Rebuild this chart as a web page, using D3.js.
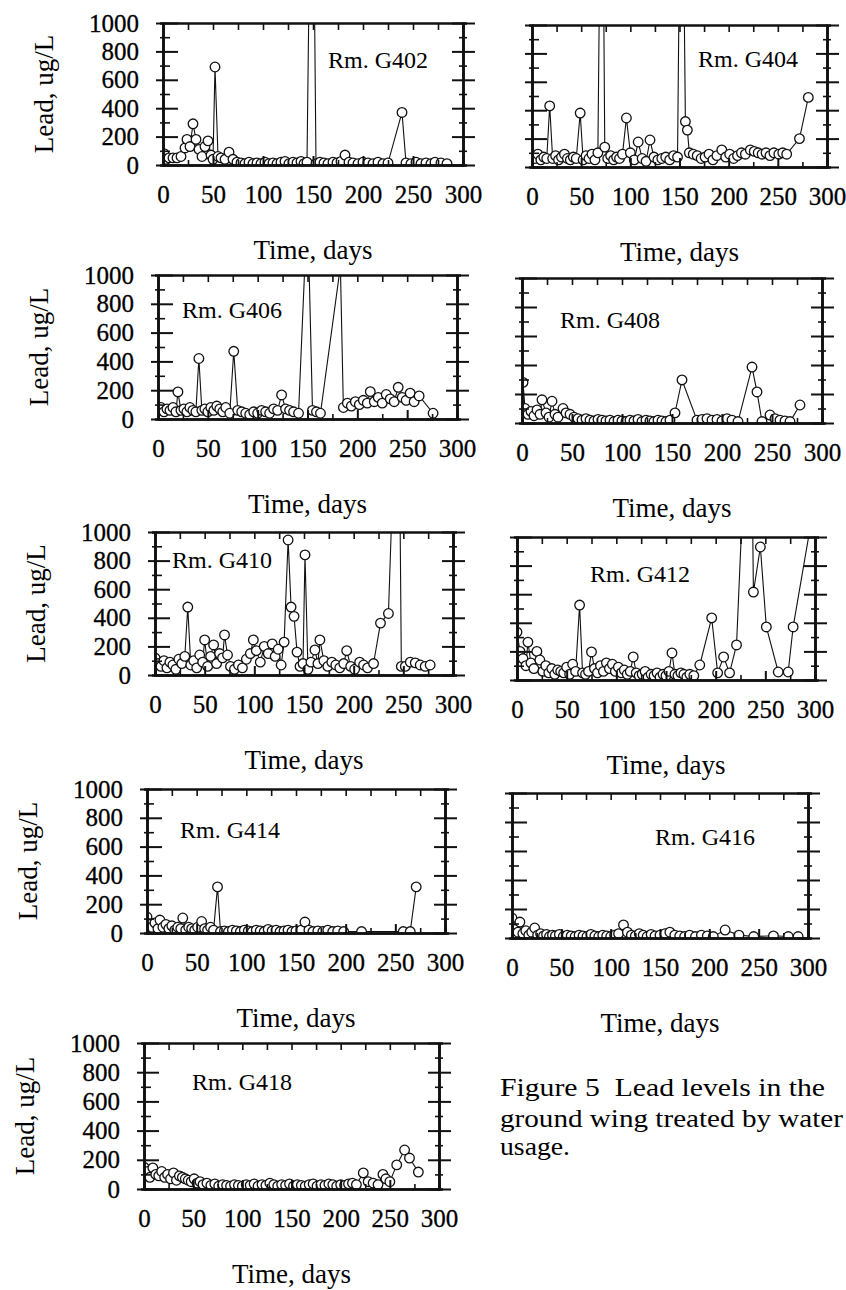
<!DOCTYPE html>
<html>
<head>
<meta charset="utf-8">
<script src="https://cdn.jsdelivr.net/npm/d3@7"></script>
<style>
  body { margin: 0; background: #fff; }
  svg { display: block; }
  text { font-family: "Liberation Serif", "Times New Roman", serif; fill: #000; white-space: pre; }
  .axis path { stroke: #111; stroke-width: 2.6; }
  .axis line { stroke: #111; stroke-width: 2; }
  .axis.minor line { stroke-width: 1.6; }
  .axis text { stroke: #000; stroke-width: 0.3; }
</style>
</head>
<body>
<svg id="fig" width="846" height="1290"></svg>
<script>
// [day, lead ug/L]; values over 1000 run off the top of the frame
const g402 = [[1,80],[3,40],[6,50],[10,50],[14,50],[18,60],[22,120],[24,180],[27,130],[30,290],[33,180],[36,110],[39,60],[42,130],[45,170],[48,70],[50,40],[52,690],[55,60],[58,50],[62,40],[66,90],[70,40],[74,20],[78,15],[82,10],[86,20],[90,10],[94,15],[98,10],[102,20],[106,10],[110,15],[114,10],[118,20],[122,25],[126,10],[130,20],[134,15],[138,25],[141,10],[144,20],[149,3000],[153,10],[157,20],[161,15],[165,10],[170,20],[174,15],[178,25],[182,70],[186,20],[190,15],[195,10],[200,20],[205,15],[210,10],[215,20],[220,10],[225,15],[239,370],[243,15],[248,10],[253,20],[258,10],[263,15],[268,10],[272,20],[278,15],[284,10]];

const g404 = [[0,80],[3,60],[6,90],[9,50],[12,70],[15,60],[18,430],[21,60],[24,80],[27,50],[30,70],[33,90],[36,60],[39,50],[42,70],[45,60],[49,380],[52,50],[55,80],[58,60],[61,90],[64,50],[67,100],[71,3000],[74,140],[77,60],[80,80],[83,50],[86,70],[89,60],[92,90],[96,345],[100,100],[104,50],[108,176],[112,60],[116,40],[120,190],[124,70],[128,50],[132,60],[136,70],[140,50],[144,80],[148,70],[152,3000],[156,320],[158,260],[160,100],[164,90],[168,80],[172,60],[176,70],[180,90],[184,50],[188,80],[193,120],[197,70],[201,90],[205,60],[209,80],[213,100],[217,90],[222,120],[226,110],[230,100],[234,90],[238,100],[242,80],[246,100],[251,90],[255,100],[259,90],[272,200],[281,490]];

const g406 = [[0,60],[3,80],[6,50],[9,70],[12,60],[15,80],[18,50],[20,188],[23,60],[26,70],[29,50],[32,80],[35,60],[38,50],[41,420],[44,60],[47,70],[50,50],[53,80],[56,60],[59,90],[62,70],[65,50],[68,80],[72,40],[76,470],[80,60],[84,50],[88,40],[92,30],[96,50],[100,40],[104,60],[108,50],[112,40],[116,70],[120,60],[124,167],[128,70],[132,60],[136,50],[141,40],[150,1500],[155,60],[159,50],[163,40],[183,1060],[186,80],[190,110],[194,90],[198,120],[202,100],[206,130],[210,110],[213,190],[217,120],[221,150],[225,110],[229,170],[233,140],[237,120],[241,220],[245,150],[249,130],[253,180],[257,120],[262,160],[276,40]];

const g408 = [[1,280],[3,100],[6,60],[9,80],[12,50],[15,90],[18,60],[20,160],[24,70],[27,40],[30,150],[33,60],[36,40],[41,100],[44,70],[48,60],[52,40],[56,30],[60,20],[64,30],[68,20],[72,15],[76,25],[80,20],[84,15],[88,20],[92,10],[96,20],[100,15],[104,10],[108,20],[112,15],[116,25],[120,10],[124,20],[128,15],[132,10],[136,20],[140,15],[144,10],[148,20],[153,70],[160,297],[175,20],[180,25],[185,30],[190,20],[195,25],[200,15],[205,30],[210,20],[216,10],[230,386],[235,214],[240,10],[248,55],[253,30],[258,20],[263,15],[268,10],[278,124]];

const g410 = [[0,120],[3,80],[6,60],[9,100],[12,50],[15,90],[18,70],[21,40],[24,110],[27,80],[30,130],[33,475],[36,70],[39,100],[42,50],[45,140],[48,90],[50,245],[53,60],[56,130],[59,210],[62,80],[65,150],[68,120],[70,280],[73,140],[76,60],[80,40],[84,70],[88,50],[92,110],[96,150],[99,245],[102,170],[106,90],[110,200],[114,150],[118,217],[121,130],[124,180],[127,70],[130,230],[134,944],[137,475],[140,410],[143,160],[146,60],[149,80],[151,840],[154,40],[157,90],[161,175],[164,80],[166,245],[170,100],[174,60],[178,90],[182,70],[186,50],[190,80],[193,170],[197,60],[201,40],[206,90],[210,70],[214,50],[220,80],[227,363],[235,430],[245,2500],[248,60],[252,60],[257,90],[262,85],[267,70],[272,60],[277,70]];

const g412 = [[0,335],[3,200],[6,150],[9,100],[11,265],[14,120],[17,80],[20,200],[23,140],[26,60],[29,100],[32,50],[35,80],[38,40],[41,70],[44,60],[47,50],[50,90],[53,40],[56,110],[59,60],[63,524],[66,50],[69,40],[72,60],[75,196],[78,80],[81,50],[84,100],[87,60],[90,120],[93,80],[96,110],[99,60],[102,90],[105,50],[108,70],[111,40],[114,60],[117,161],[120,50],[123,30],[126,40],[129,60],[132,20],[135,40],[138,30],[141,50],[144,20],[147,40],[150,30],[153,60],[156,189],[159,40],[162,30],[165,50],[168,40],[171,20],[174,40],[178,30],[184,105],[196,434],[202,50],[208,161],[214,50],[221,245],[235,2500],[238,615],[245,930],[251,371],[263,56],[273,56],[278,371],[296,1100]];

const g414 = [[0,111],[2,60],[5,40],[8,70],[11,30],[13,90],[16,40],[19,60],[22,30],[25,50],[28,20],[31,40],[34,30],[36,104],[39,20],[42,40],[45,30],[48,20],[51,40],[55,80],[58,30],[61,20],[64,40],[67,20],[71,320],[74,10],[78,15],[82,10],[86,20],[90,15],[94,10],[98,20],[102,15],[106,10],[110,20],[114,15],[118,10],[122,25],[126,15],[130,20],[134,10],[138,15],[142,20],[146,10],[150,15],[155,20],[159,76],[163,20],[167,10],[172,15],[177,10],[182,20],[187,10],[192,15],[198,10],[216,10],[258,10],[265,10],[271,320]];

const g416 = [[0,138],[3,60],[6,40],[8,110],[11,30],[14,50],[17,20],[20,40],[23,69],[26,20],[29,30],[32,15],[35,25],[38,10],[41,20],[44,15],[48,25],[52,10],[56,20],[60,15],[64,10],[68,20],[72,15],[76,10],[80,25],[84,15],[88,10],[92,20],[96,15],[100,10],[104,20],[108,30],[113,90],[117,40],[121,20],[125,15],[129,30],[133,20],[137,10],[141,25],[145,15],[150,20],[155,30],[160,40],[165,20],[170,15],[175,10],[180,20],[186,10],[192,20],[198,15],[204,10],[216,55],[230,20],[245,10],[265,15],[280,10],[290,10]];

const g418 = [[0,150],[2,90],[4,120],[6,80],[9,145],[12,100],[15,90],[18,120],[21,80],[24,100],[27,70],[30,110],[33,60],[36,90],[39,80],[42,70],[45,60],[48,50],[51,70],[54,40],[57,50],[60,30],[64,40],[68,25],[72,35],[76,20],[80,30],[84,25],[88,20],[92,30],[96,25],[100,20],[104,30],[108,25],[112,35],[116,20],[120,30],[124,25],[128,40],[132,30],[136,20],[140,30],[144,25],[148,35],[152,20],[156,30],[160,25],[164,20],[168,30],[172,35],[176,20],[180,30],[184,25],[188,35],[192,30],[196,20],[200,30],[204,25],[208,35],[212,40],[216,30],[223,110],[228,50],[233,40],[238,30],[243,100],[246,70],[250,50],[257,165],[265,267],[270,212],[279,116]];

const xTicks = [0, 50, 100, 150, 200, 250, 300];
const xMinorTicks = [25, 75, 125, 175, 225, 275];
const yTicks = [0, 200, 400, 600, 800, 1000];
const yMinorTicks = [100, 300, 500, 700, 900];
const xTitle = 'Time, days';
const yTitle = 'Lead, ug/L';
const captionLines = ['Figure 5  Lead levels in the', 'ground wing treated by water', 'usage.'];

// where each panel frame sits on the page (the scan is a bit skewed, so each one is measured)
const panels = [
  {room: 'G402', data: g402, left: 163, top: 23,   width: 300, height: 142, label: [165, 45], yLabels: true},
  {room: 'G404', data: g404, left: 532, top: 25,   width: 295, height: 142, label: [166, 42], yLabels: false},
  {room: 'G406', data: g406, left: 158, top: 275,  width: 299, height: 144, label: [24, 43],  yLabels: true},
  {room: 'G408', data: g408, left: 522, top: 278,  width: 300, height: 145, label: [38, 50],  yLabels: false},
  {room: 'G410', data: g410, left: 155, top: 532,  width: 298, height: 143, label: [17, 36],  yLabels: true},
  {room: 'G412', data: g412, left: 517, top: 537,  width: 298, height: 143, label: [73, 45],  yLabels: false},
  {room: 'G414', data: g414, left: 147, top: 789,  width: 298, height: 144, label: [33, 49],  yLabels: true},
  {room: 'G416', data: g416, left: 512, top: 793,  width: 296, height: 145, label: [143, 52], yLabels: false},
  {room: 'G418', data: g418, left: 144, top: 1043, width: 295, height: 146, label: [48, 47],  yLabels: true}
];

const svg = d3.select('#fig');
svg.append('rect').attr('width', 846).attr('height', 1290).attr('fill', '#fff');

panels.forEach((p, i) => drawPanel(p, i));

function drawPanel(p, i) {
  const x = d3.scaleLinear().domain([0, 300]).range([0, p.width]);
  const y = d3.scaleLinear().domain([0, 1000]).range([p.height, 0]);

  const g = svg.append('g').attr('transform', `translate(${p.left},${p.top})`);

  g.append('clipPath').attr('id', 'clip' + i)
    .append('rect').attr('width', p.width).attr('height', p.height);

  const plot = g.append('g').attr('clip-path', `url(#clip${i})`);

  const line = d3.line().x(d => x(d[0])).y(d => y(d[1]));
  plot.append('path').datum(p.data)
    .attr('d', line)
    .attr('fill', 'none')
    .attr('stroke', '#111')
    .attr('stroke-width', 1.1);

  plot.selectAll('circle')
    .data(p.data.filter(d => d[1] <= 1000))
    .join('circle')
    .attr('cx', d => x(d[0]))
    .attr('cy', d => y(d[1]))
    .attr('r', 4.8)
    .attr('fill', '#fff')
    .attr('stroke', '#111')
    .attr('stroke-width', 1.3);

  // bottom axis with the day labels, ticks pointing in
  const bottom = g.append('g').attr('class', 'axis')
    .attr('transform', `translate(0,${p.height})`)
    .call(d3.axisBottom(x).tickValues(xTicks).tickSizeInner(-9).tickSizeOuter(0));
  bottom.attr('font-size', 25).attr('font-family', null);
  bottom.selectAll('text').attr('y', 29).attr('dy', '0.35em');

  g.append('g').attr('class', 'axis minor')
    .attr('transform', `translate(0,${p.height})`)
    .call(d3.axisBottom(x).tickValues(xMinorTicks).tickSize(-5).tickFormat(''));

  // top edge of the frame
  g.append('g').attr('class', 'axis minor')
    .call(d3.axisTop(x).tickValues(xTicks.concat(xMinorTicks)).tickSizeInner(-7).tickSizeOuter(0).tickFormat(''));

  // left axis, ticks cross the line
  const left = g.append('g').attr('class', 'axis')
    .call(d3.axisLeft(y).tickValues(yTicks).tickSizeInner(7).tickSizeOuter(0)
      .tickFormat(p.yLabels ? d3.format('d') : ''));
  left.attr('font-size', 25).attr('font-family', null);
  left.selectAll('.tick line').attr('x1', 15);
  left.selectAll('text').attr('x', -24);

  const leftMinor = g.append('g').attr('class', 'axis minor')
    .call(d3.axisLeft(y).tickValues(yMinorTicks).tickSize(3).tickFormat(''));
  leftMinor.selectAll('.tick line').attr('x1', 7);

  // right edge
  const right = g.append('g').attr('class', 'axis')
    .attr('transform', `translate(${p.width},0)`)
    .call(d3.axisRight(y).tickValues(yTicks).tickSizeInner(12).tickSizeOuter(0).tickFormat(''));
  right.selectAll('.tick line').attr('x1', -11);

  const rightMinor = g.append('g').attr('class', 'axis minor')
    .attr('transform', `translate(${p.width},0)`)
    .call(d3.axisRight(y).tickValues(yMinorTicks).tickSize(4).tickFormat(''));
  rightMinor.selectAll('.tick line').attr('x1', -4);

  // titles
  g.append('text')
    .attr('x', p.width / 2)
    .attr('y', p.height + 85)
    .attr('dy', '0.35em')
    .attr('text-anchor', 'middle')
    .attr('font-size', 27)
    .text(xTitle);

  if (p.yLabels) {
    g.append('text')
      .attr('transform', `translate(-119,${p.height / 2}) rotate(-90)`)
      .attr('text-anchor', 'middle')
      .attr('dy', '0.35em')
      .attr('font-size', 27)
      .text(yTitle);
  }

  g.append('text')
    .attr('x', p.label[0])
    .attr('y', p.label[1])
    .attr('font-size', 24)
    .text('Rm. ' + p.room);
}

// figure caption at the lower right
const captionWidths = [325, 343, 70];
svg.append('g').selectAll('text')
  .data(captionLines)
  .join('text')
  .attr('x', 500)
  .attr('y', (d, i) => [1096, 1127, 1155][i])
  .attr('font-size', 25)
  .attr('textLength', (d, i) => captionWidths[i])
  .attr('lengthAdjust', 'spacingAndGlyphs')
  .text(d => d);
</script>
</body>
</html>
